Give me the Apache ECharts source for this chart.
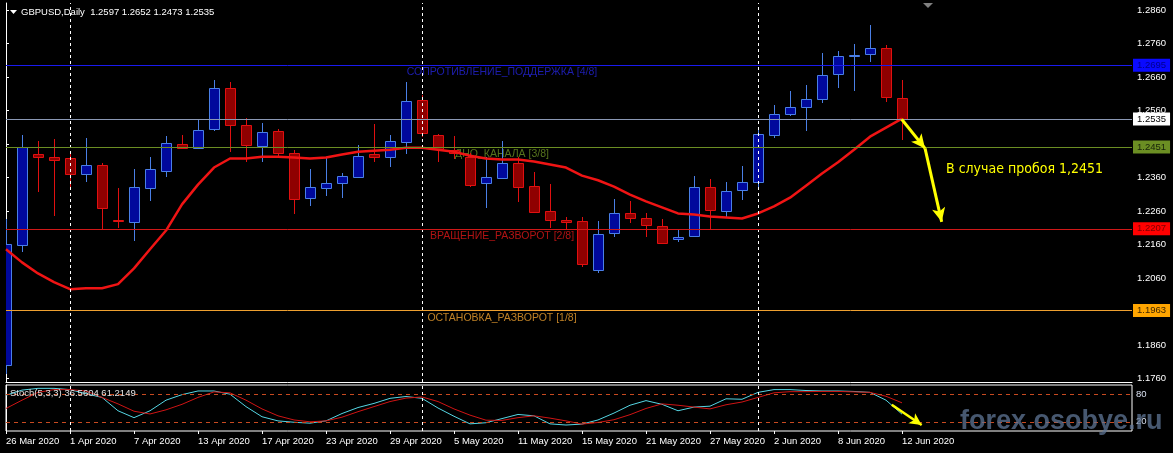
<!DOCTYPE html>
<html><head><meta charset="utf-8">
<script src="https://cdn.jsdelivr.net/npm/echarts@6/dist/echarts.min.js"></script>
<style>html,body{margin:0;padding:0;background:#000;}#c{width:1173px;height:453px;}</style>
</head><body><div id="c"></div>
<script>
// ---------- DATA ----------
const dates = ['26 Mar 2020','27 Mar 2020','30 Mar 2020','31 Mar 2020','1 Apr 2020','2 Apr 2020','3 Apr 2020','6 Apr 2020','7 Apr 2020','8 Apr 2020',
 '9 Apr 2020','10 Apr 2020','13 Apr 2020','14 Apr 2020','15 Apr 2020','16 Apr 2020','17 Apr 2020','20 Apr 2020','21 Apr 2020','22 Apr 2020',
 '23 Apr 2020','24 Apr 2020','27 Apr 2020','28 Apr 2020','29 Apr 2020','30 Apr 2020','1 May 2020','4 May 2020','5 May 2020','6 May 2020',
 '7 May 2020','8 May 2020','11 May 2020','12 May 2020','13 May 2020','14 May 2020','15 May 2020','18 May 2020','19 May 2020','20 May 2020',
 '21 May 2020','22 May 2020','25 May 2020','26 May 2020','27 May 2020','28 May 2020','29 May 2020','1 Jun 2020','2 Jun 2020','3 Jun 2020',
 '4 Jun 2020','5 Jun 2020','8 Jun 2020','9 Jun 2020','10 Jun 2020','11 Jun 2020','12 Jun 2020'];
const open  = [1.1800,1.2158,1.2431,1.2420,1.2417,1.2372,1.2399,1.2233,1.2226,1.2330,
 1.2381,1.2461,1.2449,1.2506,1.2628,1.2518,1.2455,1.2500,1.2434,1.2298,
 1.2330,1.2345,1.2363,1.2431,1.2422,1.2467,1.2592,1.2488,1.2443,1.2422,
 1.2345,1.2360,1.2405,1.2336,1.2259,1.2232,1.2229,1.2083,1.2196,1.2253,
 1.2238,1.2217,1.2178,1.2187,1.2333,1.2259,1.2324,1.2348,1.2488,1.2550,
 1.2571,1.2595,1.2670,1.2724,1.2729,1.2747,1.2597];
const high  = [1.2235,1.2488,1.2470,1.2476,1.2437,1.2479,1.2405,1.2330,1.2387,1.2422,
 1.2485,1.2488,1.2533,1.2652,1.2646,1.2539,1.2524,1.2506,1.2443,1.2387,
 1.2417,1.2375,1.2458,1.2521,1.2488,1.2646,1.2607,1.2491,1.2485,1.2434,
 1.2420,1.2470,1.2422,1.2378,1.2342,1.2241,1.2241,1.2229,1.2297,1.2289,
 1.2253,1.2235,1.2205,1.2366,1.2357,1.2348,1.2396,1.2509,1.2577,1.2619,
 1.2637,1.2732,1.2738,1.2759,1.2815,1.2756,1.2652];
const low   = [1.1775,1.2137,1.2318,1.2244,1.2330,1.2348,1.2208,1.2211,1.2170,1.2289,
 1.2363,1.2446,1.2449,1.2500,1.2437,1.2408,1.2408,1.2422,1.2250,1.2274,
 1.2306,1.2300,1.2363,1.2408,1.2393,1.2431,1.2482,1.2408,1.2414,1.2333,
 1.2268,1.2357,1.2286,1.2256,1.2211,1.2205,1.2092,1.2074,1.2184,1.2223,
 1.2184,1.2161,1.2167,1.2187,1.2208,1.2241,1.2292,1.2324,1.2479,1.2545,
 1.2500,1.2583,1.2628,1.2619,1.2705,1.2586,1.2473];
const close = [1.2161,1.2452,1.2420,1.2411,1.2372,1.2399,1.2268,1.2230,1.2333,1.2387,
 1.2464,1.2449,1.2503,1.2628,1.2518,1.2458,1.2497,1.2434,1.2295,1.2333,
 1.2345,1.2366,1.2425,1.2422,1.2470,1.2589,1.2494,1.2446,1.2434,1.2339,
 1.2363,1.2405,1.2333,1.2256,1.2232,1.2226,1.2101,1.2193,1.2253,1.2238,
 1.2220,1.2164,1.2184,1.2333,1.2262,1.2321,1.2348,1.2491,1.2550,1.2571,
 1.2595,1.2667,1.2723,1.2727,1.2747,1.2601,1.2535];
const ma = [1.2146,1.2107,1.2074,1.2048,1.2027,1.2030,1.2030,1.2042,1.2089,1.2146,
 1.2202,1.2280,1.2339,1.2390,1.2417,1.2417,1.2422,1.2422,1.2420,1.2417,
 1.2420,1.2429,1.2437,1.2440,1.2443,1.2449,1.2449,1.2443,1.2437,1.2425,
 1.2417,1.2414,1.2414,1.2408,1.2399,1.2390,1.2366,1.2352,1.2333,1.2309,
 1.2289,1.2271,1.2253,1.2250,1.2244,1.2241,1.2238,1.2253,1.2274,1.2300,
 1.2336,1.2372,1.2406,1.2443,1.2482,1.2509,1.2536];
const stochMain = [77.8,88.9,92.7,92.7,90,81,73,44,29,44,
 67,79,87,87,80,53,31,22,19,17,
 22,38,51,60,71,75,71,50,32,15.5,
 18,27,36,33,15.5,13,15,24,39,56,
 66,58,44,52,54,70,69,84,90,90,
 88,87,87,86,84,67,36.5604];
const stochSignal = [49,67,84,90,90,87,73,59,43,37,
 46,58,73,85,83,67,48,33,24,20,
 22,30,42,53,64,71.5,74,64,48,34.5,
 23.5,23,29,33,28,22,15,18.5,24.5,35.5,
 49,59,56,52,48,57,63,73,83,85.5,
 85.5,86,86,85,84,75.5,61.2149];
const priceTicks = [1.1760,1.1860,1.1960,1.2060,1.2160,1.2260,1.2360,1.2460,1.2560,1.2660,1.2760,1.2860];
const stochTicks = [0,20,80,100];
const stochLevels = [80,20];
const levelValues = [1.2695,1.2451,1.2207,1.1963];
const levelNames = ['СОПРОТИВЛЕНИЕ_ПОДДЕРЖКА [4/8]','ДНО_КАНАЛА [3/8]','ВРАЩЕНИЕ_РАЗВОРОТ [2/8]','ОСТАНОВКА_РАЗВОРОТ [1/8]'];
const bidPrice = 1.2535;
const symbolName = 'GBPUSD,Daily';
const stochName = 'Stoch(5,3,3)';
// annotation arrows in (bar index, value) data space
const arrowMain = [[55.98,1.2534],[57.44,1.2447],[58.48,1.2228]];
const arrowStoch = [[55.36,57],[57.23,13]];
const noteText = 'В случае пробоя ';

// ---------- STYLES ----------
const FONT = 'Liberation Sans';
const bullFill = '#00089c', bullLine = '#4a7fe6';
const bearFill = '#8f0000', bearLine = '#e01010';
const levelLineColors = ['#1a1aee','#6b8e23','#d01818','#eea030'];
const levelBoxColors  = ['#0a0aff','#6b8e23','#ff0000','#ffa500'];
const levelBoxText    = ['#00008b','#17220a','#7a0000','#3d2600'];
const levelTextColors = ['#2424d8','#6b8e23','#e01818','#eea030'];

const N = dates.length;
const lastIdx = N - 1;
const monthOf = s => s.split(' ')[1];
const separators = dates.map((d,i)=>i).filter(i => i>0 && monthOf(dates[i]) !== monthOf(dates[i-1]));
const tickIdx = dates.map((d,i)=>i).filter(i => i % 4 === 0);
const xMax = 70.375;

const chart = echarts.init(document.getElementById('c'), null, {renderer:'canvas'});

const sepLines = separators.map(i => ({xAxis:i}));

const option = {
  backgroundColor:'#000',
  animation:false,
  grid:[
    {left:6, right:41, top:3, height:379, show:false},
    {left:6, right:41, top:385, height:46, show:true, borderColor:'#ffffff', borderWidth:1, backgroundColor:'transparent'}
  ],
  xAxis:[
    {type:'value', gridIndex:0, min:0, max:xMax, axisLine:{show:true, lineStyle:{color:'#ffffff', width:1}},
     axisTick:{show:false}, axisLabel:{show:false}, splitLine:{show:false}},
    {type:'value', gridIndex:1, min:0, max:xMax, axisLine:{show:false},
     axisTick:{show:true, length:3, lineStyle:{color:'#ffffff'}, customValues:tickIdx},
     axisLabel:{show:true, customValues:tickIdx, color:'#ffffff', fontFamily:FONT, fontSize:9.5, align:'left', margin:5,
       formatter:v => dates[Math.round(v)] || ''},
     splitLine:{show:false}}
  ],
  yAxis:[
    {type:'value', gridIndex:0, position:'right', min:1.1750, max:1.2881, scale:true,
     axisLine:{show:true, lineStyle:{color:'#ffffff', width:1}},
     axisTick:{show:true, length:3, inside:false, lineStyle:{color:'#ffffff'}, customValues:priceTicks},
     axisLabel:{show:true, customValues:priceTicks, color:'#ffffff', fontFamily:FONT, fontSize:9.5, margin:5,
       formatter:v => v.toFixed(4)},
     splitLine:{show:false}},
    {type:'value', gridIndex:1, position:'right', min:0, max:100,
     axisLine:{show:true, lineStyle:{color:'#ffffff', width:1}},
     axisTick:{show:true, length:3, lineStyle:{color:'#ffffff'}, customValues:stochTicks},
     axisLabel:{show:true, customValues:stochTicks, color:'#d8e0f0', fontFamily:FONT, fontSize:9.5, margin:4, hideOverlap:false},
     splitLine:{show:false}}
  ],
  series:[
    // level labels + level lines + separators (bottom layer)
    {
      type:'scatter', xAxisIndex:0, yAxisIndex:0, z:1, silent:true,
      symbolSize:1, itemStyle:{color:'rgba(0,0,0,0)'},
      data: levelValues.map((v,i)=>({value:[31, v], name:levelNames[i],
        label:{show:true, position:'bottom', distance:1, formatter:'{b}', color:levelTextColors[i], fontFamily:FONT, fontSize:10.5}})),
      markLine:{
        silent:true, symbol:['none','none'], animation:false, precision:6,
        label:{show:false},
        data:[
          ...sepLines.map(d => ({...d, lineStyle:{color:'#ffffff', width:1, type:[3,3]}, label:{show:false}})),
          ...levelValues.map((v,i)=>({yAxis:v, lineStyle:{color:levelLineColors[i], width:1, type:'solid'},
            label:{show:true, position:'end', distance:1, formatter:p=>Number(p.value).toFixed(4),
              backgroundColor:levelBoxColors[i], color:levelBoxText[i], fontFamily:FONT, fontSize:9.5, padding:[2,4,1,4]}})),
          {yAxis:bidPrice, lineStyle:{color:'#8a98b4', width:1, type:'solid'},
            label:{show:true, position:'end', distance:1, formatter:p=>Number(p.value).toFixed(4),
              backgroundColor:'#ffffff', color:'#000000', fontFamily:FONT, fontSize:9.5, padding:[2,4,1,4]}}
        ]
      }
    },
    // candles
    {
      type:'custom', xAxisIndex:0, yAxisIndex:0, z:2, clip:true, silent:true,
      data: dates.map((d,i)=>[i, open[i], close[i], low[i], high[i]]),
      encode:{x:0, y:[1,2,3,4]},
      renderItem:(params, api) => {
        const x = api.value(0), o = api.value(1), c = api.value(2), l = api.value(3), h = api.value(4);
        const pO = api.coord([x,o]), pC = api.coord([x,c]), pL = api.coord([x,l]), pH = api.coord([x,h]);
        const bull = c >= o;
        const cx = Math.round(pO[0]) + 0.5;
        const top = Math.round(Math.min(pO[1], pC[1])) + 0.5;
        const bot = Math.round(Math.max(pO[1], pC[1])) + 0.5;
        const hw = 5;
        const line = bull ? bullLine : bearLine;
        const fill = bull ? bullFill : bearFill;
        return {type:'group', children:[
          {type:'line', shape:{x1:cx, y1:Math.round(pH[1]), x2:cx, y2:Math.round(pL[1])}, style:{stroke:line, lineWidth:1}},
          {type:'rect', shape:{x:cx-hw, y:top, width:hw*2, height:Math.max(bot-top, 1)}, style:{fill:fill, stroke:line, lineWidth:1}}
        ]};
      }
    },
    // moving average + annotation arrows
    {
      type:'line', xAxisIndex:0, yAxisIndex:0, z:3, silent:true,
      data: ma.map((v,i)=>[i,v]), showSymbol:false, symbol:'none',
      lineStyle:{color:'#f01414', width:2.5},
      markLine:{
        silent:true, animation:false, symbol:['none','none'], label:{show:false}, precision:6,
        lineStyle:{color:'#ffff00', width:3, type:'solid'},
        data: arrowMain.slice(1).map((p,i)=>[
          {coord:arrowMain[i], symbol:'none'},
          {coord:p, symbol:'arrow', symbolSize:[10,14]}
        ])
      }
    },
    // stochastic main
    {
      type:'line', xAxisIndex:1, yAxisIndex:1, z:3, silent:true,
      data: stochMain.map((v,i)=>[i,v]), showSymbol:false, symbol:'none',
      lineStyle:{color:'#55d6e4', width:1},
      markLine:{
        silent:true, animation:false, symbol:['none','none'], label:{show:false}, precision:6,
        data:[
          ...stochLevels.map(v => ({yAxis:v, lineStyle:{color:'#c84a20', width:1, type:[4,4]}})),
          ...sepLines.map(d => ({...d, lineStyle:{color:'#ffffff', width:1, type:[3,3]}})),
          [{coord:arrowStoch[0], symbol:'none'}, {coord:arrowStoch[1], symbol:'arrow', symbolSize:[9,12],
            lineStyle:{color:'#ffff00', width:2.5, type:'solid'}}]
        ]
      }
    },
    // stochastic signal
    {
      type:'line', xAxisIndex:1, yAxisIndex:1, z:3, silent:true,
      data: stochSignal.map((v,i)=>[i,v]), showSymbol:false, symbol:'none',
      lineStyle:{color:'#d01414', width:1}
    }
  ],
  graphic:[
    {type:'polygon', shape:{points:[[10,10],[17,10],[13.5,14]]}, style:{fill:'#ffffff'}, z:10},
    {type:'text', left:21, top:7, z:10, style:{text:symbolName + '  ' + [open[lastIdx],high[lastIdx],low[lastIdx],close[lastIdx]].map(v=>v.toFixed(4)).join(' '),
      fill:'#ffffff', font:'9.5px "Liberation Sans"'}},
    {type:'text', left:10, top:388, z:10, style:{text:stochName + ' ' + stochMain[lastIdx].toFixed(4) + ' ' + stochSignal[lastIdx].toFixed(4),
      fill:'#e0e0e0', font:'9.5px "Liberation Sans"'}},
    {type:'polygon', shape:{points:[[923,3],[933,3],[928,8]]}, style:{fill:'#808080'}, z:10},
    {type:'text', left:946, top:162, z:10, style:{text:noteText + levelValues[1].toFixed(4).replace('.',','),
      fill:'#ffff00', font:'14px "DejaVu Sans Condensed", "DejaVu Sans"'}},
    {type:'text', left:960, top:408, z:20, style:{text:'forex.osobye.ru',
      fill:'rgba(95,118,150,0.75)', font:'bold 27px "Liberation Sans"'}}
  ]
};
chart.setOption(option);
</script>
</body></html>
